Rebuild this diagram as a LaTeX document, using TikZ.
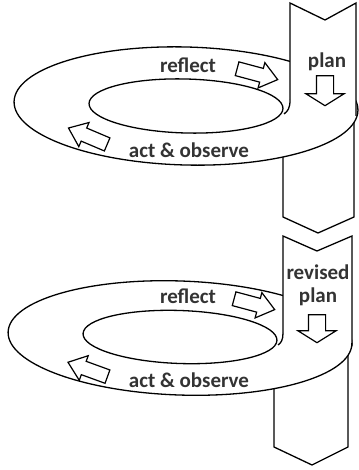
\documentclass[tikz,border=0pt]{standalone}
\usepackage{fontspec}
\setmainfont{Carlito}
\usetikzlibrary{shapes.arrows}

\begin{document}
\begin{tikzpicture}[
    x=1pt, y=-1pt,
    line width=1.3pt,
    looptext/.style={font=\fontsize{21}{23}\selectfont\bfseries, inner sep=0pt, text=black!80},
    blockarrow/.style={single arrow, draw, fill=white, line width=1.2pt, inner ysep=6.5pt, inner xsep=0pt,
        minimum height=42pt, single arrow head extend=6pt, single arrow tip angle=76},
    downarrow/.style={single arrow, draw, fill=white, line width=1.2pt, rotate=-90, inner ysep=8pt, inner xsep=0pt,
        minimum height=30pt, single arrow head extend=10.5pt, single arrow tip angle=116}
]
    \useasboundingbox (0,0) rectangle (358,470);

    % Upper loop: strip below the ring
    \filldraw[fill=white] (283,130) -- (283,217) -- (318,233) -- (354,217) -- (354,115);
    % Upper loop: ring
    \draw[fill=white, rotate around={-1.5:(186,106)}] (186,106) ellipse [x radius=172, y radius=59];
    \draw[rotate around={-1.5:(186,106)}] (186,106) ellipse [x radius=97, y radius=27];
    % Upper loop: strip above the ring
    \fill[white] (290,3) -- (325,20) -- (356,3) -- (356,114) -- (290,100) -- cycle;
    \draw (290,100) -- (290,3) -- (325,20) -- (356,3) -- (356,116);
    \draw (290,100) .. controls (290,108) and (288,111) .. (284,114);

    \node[looptext] (reflect1) at (188,65) {reflect};
    \node[looptext] (plan1) at (327,62) {plan};
    \node[looptext] (act1) at (189,150) {act \& observe};
    \node[blockarrow, rotate=-15] (reflectarr1) at (253,73) {};
    \node[blockarrow, rotate=157] (actarr1) at (92,138) {};
    \node[downarrow] (planarr1) at (325,88) {};

    % Lower loop: strip below the ring
    \filldraw[fill=white] (274,360) -- (274,447) -- (312,465) -- (348,447) -- (348,350);
    % Lower loop: ring
    \draw[fill=white, rotate around={-2:(180,338)}] (180,338) ellipse [x radius=172, y radius=57];
    \draw[rotate around={-2:(180,337)}] (180,337) ellipse [x radius=97, y radius=26.5];
    % Lower loop: strip above the ring
    \fill[white] (283,236) -- (317,251) -- (352,236) -- (352,343) -- (283,330) -- cycle;
    \draw (283,333) -- (283,236) -- (317,251) -- (352,236) -- (352,346);
    \draw (283,333) .. controls (283,340) and (281,343) .. (278,345);

    \node[looptext] (reflect2) at (188,296) {reflect};
    \node[looptext, align=center] (plan2) at (318,285) {revised\\plan};
    \node[looptext] (act2) at (189,380) {act \& observe};
    \node[blockarrow, rotate=-15] (reflectarr2) at (250,303) {};
    \node[blockarrow, rotate=160] (actarr2) at (92,371) {};
    \node[downarrow, minimum height=28pt] (planarr2) at (317,326) {};
\end{tikzpicture}
\end{document}
